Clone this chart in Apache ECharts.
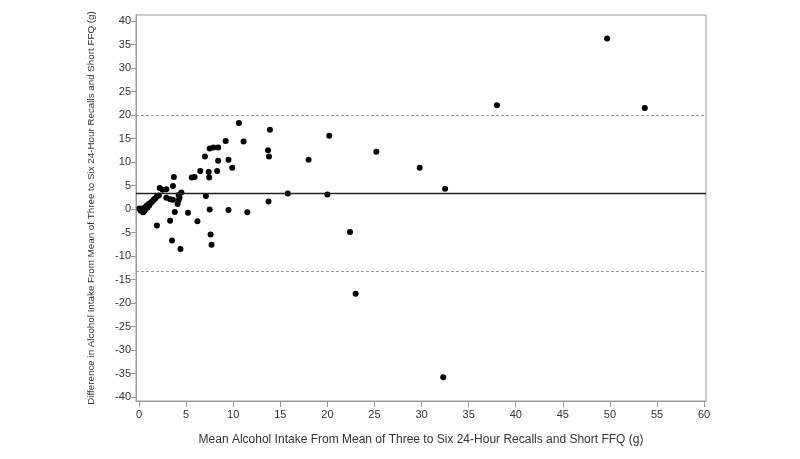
<!DOCTYPE html>
<html>
<head>
<meta charset="utf-8">
<script src="https://cdn.jsdelivr.net/npm/echarts@6/dist/echarts.min.js"></script>
<style>
  html, body { margin: 0; padding: 0; background: #fff; }
  #chart { width: 800px; height: 459px; }
</style>
</head>
<body>
<div id="chart"></div>
<script>
// mean of the two methods (g)
var meanIntake = [
  0.05, 0.15, 0.25, 0.35, 0.45, 0.5, 0.6, 0.7, 0.8, 0.9, 1.0, 1.1, 1.2, 1.35, 1.5, 1.6, 1.75, 1.9, 2.1,
  2.2, 2.5, 2.9, 1.9, 2.9, 3.3, 3.6, 4.2, 4.1, 4.3, 3.6, 3.7, 4.5, 4.2, 3.8, 5.2, 3.3, 3.5, 4.4,
  5.6, 5.9, 6.2, 6.5, 7.0, 7.1, 7.4, 7.45, 7.5, 7.5, 7.6, 7.7, 7.9, 8.3, 8.4, 8.4, 9.2, 9.5, 9.5,
  9.9, 10.6, 11.1, 11.5, 13.7, 13.8, 13.9, 13.75, 15.8, 18.0, 20.0, 20.2, 22.4, 23.0, 25.2, 29.8,
  32.3, 32.5, 38.0, 49.7, 53.7
];
// difference between the two methods (g)
var difference = [
  0.1, -0.3, 0.0, -0.5, -0.7, 0.2, -0.3, 0.4, 0.7, 0.3, 1.0, 0.8, 1.3, 1.5, 1.8, 2.1, 2.3, 2.7, 2.9,
  4.5, 4.1, 4.2, -3.5, 2.4, 2.1, 2.0, 1.8, 1.1, 2.4, 4.9, 6.8, 3.5, 3.0, -0.6, -0.8, -2.5, -6.7, -8.5,
  6.7, 6.8, -2.6, 8.1, 11.2, 2.8, 7.9, 6.7, 12.9, -0.1, -5.4, -7.6, 13.1, 8.1, 10.3, 13.1, 14.5, 10.5, -0.2,
  8.8, 18.3, 14.4, -0.7, 12.5, 11.2, 16.9, 1.6, 3.3, 10.5, 3.1, 15.6, -4.9, -18.0, 12.2, 8.8,
  -35.8, 4.3, 22.1, 36.3, 21.5
];
var meanDiff = 3.4;
var upperLimit = 20.0;
var lowerLimit = -13.2;
var xTicks = [0, 5, 10, 15, 20, 25, 30, 35, 40, 45, 50, 55, 60];
var yTicks = [-40, -35, -30, -25, -20, -15, -10, -5, 0, 5, 10, 15, 20, 25, 30, 35, 40];

var points = meanIntake.map(function (x, i) { return [x, difference[i]]; });

var chart = echarts.init(document.getElementById('chart'));
var font = 'Liberation Sans, Arial, sans-serif';
var labelStyle = { color: '#333', fontSize: 11, fontFamily: font };

chart.setOption({
  animation: false,
  grid: {
    left: 136, right: 94, top: 15, bottom: 58,
    containLabel: false, outerBoundsMode: 'none',
    show: true, borderColor: '#999', borderWidth: 1, backgroundColor: 'transparent'
  },
  xAxis: {
    type: 'value',
    min: -0.32, max: 60.2,
    name: 'Mean Alcohol Intake From Mean of Three to Six 24-Hour Recalls and Short FFQ (g)',
    nameLocation: 'middle', nameGap: 33,
    nameTextStyle: { color: '#333', fontSize: 12, fontFamily: font },
    axisLine: { show: true, onZero: false, lineStyle: { color: '#999' } },
    axisTick: { show: true, length: 6, customValues: xTicks, lineStyle: { color: '#999' } },
    axisLabel: Object.assign({ customValues: xTicks, margin: 8 }, labelStyle),
    splitLine: { show: false }
  },
  yAxis: {
    type: 'value',
    min: -40.85, max: 41.3,
    name: 'Difference in Alcohol Intake From Mean of Three to Six 24-Hour Recalls and Short FFQ (g)',
    nameLocation: 'middle', nameGap: 40,
    nameTextStyle: { color: '#333', fontSize: 9.8, fontFamily: font },
    axisLine: { show: true, onZero: false, lineStyle: { color: '#999' } },
    axisTick: { show: true, length: 5, customValues: yTicks, lineStyle: { color: '#999' } },
    axisLabel: Object.assign({ customValues: yTicks, margin: 5 }, labelStyle),
    splitLine: { show: false }
  },
  series: [{
    type: 'scatter',
    data: points,
    symbolSize: 6,
    itemStyle: { color: '#000', opacity: 1 },
    markLine: {
      silent: true,
      symbol: 'none',
      label: { show: false },
      data: [
        { yAxis: meanDiff, lineStyle: { color: '#222', type: 'solid', width: 1.3 } },
        { yAxis: upperLimit, lineStyle: { color: '#999', type: [3, 2], width: 1 } },
        { yAxis: lowerLimit, lineStyle: { color: '#999', type: [3, 2], width: 1 } }
      ]
    }
  }]
});
</script>
</body>
</html>
